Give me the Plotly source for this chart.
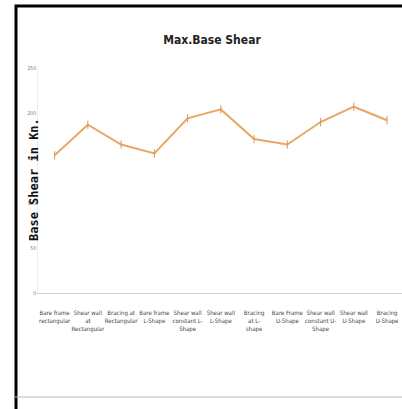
import plotly.graph_objects as go

categories = ["Bare frame<br>rectangular", "Shear wall<br>at<br>Rectangular", "Bracing at<br>Rectangular",
              "Bare frame<br>L-Shape", "Shear wall<br>constant L-<br>Shape", "Shear wall<br>L-Shape",
              "Bracing<br>at L-<br>shape", "Bare Frame<br>U-Shape", "Shear wall<br>constant U-<br>Shape",
              "Shear wall<br>U-Shape", "Bracing<br>U-Shape"]
values = [153, 187, 165, 155, 194, 204, 171, 165, 190, 207, 192]
y_ticks = [0, 50, 100, 150, 200, 250]

W, H = 402, 409
L, R, T, B = 38, 0, 68, 116
pw = W - L - R
ph = H - T - B
NARROW = "DejaVu Sans Condensed, Liberation Sans Narrow, Arial Narrow, Liberation Sans, sans-serif"

def px(x):
    return (x - L) / pw

def py(y):
    return (H - B - y) / ph

fig = go.Figure()
fig.add_trace(go.Scatter(
    x=list(range(len(categories))), y=values, mode="lines+markers",
    line=dict(color="#E9A766", width=2),
    marker=dict(symbol="line-ns-open", size=6, color="#D9965A", line=dict(width=1, color="#C98A50")),
    hoverinfo="skip"))

fig.update_layout(
    width=W, height=H, margin=dict(l=L, r=R, t=T, b=B),
    paper_bgcolor="white", plot_bgcolor="white", showlegend=False,
    title=dict(text="<b>Max.Base Shear</b>", x=212 / W, xanchor="center",
               y=1 - 40 / H, yanchor="middle",
               font=dict(family=NARROW, size=12, color="#222")),
    xaxis=dict(tickmode="array", tickvals=list(range(len(categories))), ticktext=categories,
               range=[-0.5, 10.45], showgrid=False, zeroline=False, tickangle=0,
               showline=True, linecolor="#D0D0D0", linewidth=1, ticks="outside", ticklen=14,
               tickcolor="rgba(0,0,0,0)", ticklabeloverflow="allow",
               tickfont=dict(family=NARROW, size=6, color="#444")),
    yaxis=dict(range=[0, 250], tickmode="array", tickvals=y_ticks, showgrid=False, zeroline=False,
               showline=True, linecolor="#EEEEEE", linewidth=1,
               tickfont=dict(family=NARROW, size=5, color="#777")),
)

fig.add_annotation(text="<b>Base Shear in Kn.</b>", xref="paper", yref="paper",
                   x=px(25), y=py(180), textangle=-90, showarrow=False,
                   font=dict(family="DejaVu Sans Mono", size=12, color="#111"))

# frame borders: one open path (top + left), plus gray bottom line
fig.add_shape(type="path", xref="paper", yref="paper",
              path=f"M {px(402)},{py(6)} L {px(16)},{py(6)} L {px(16)},{py(409)}",
              line=dict(color="black", width=3), layer="above")
fig.add_shape(type="line", xref="paper", yref="paper", x0=px(15), x1=px(402), y0=py(397), y1=py(397),
              line=dict(color="#BBBBBB", width=1), layer="above")

fig.write_html("out.html", config={"displayModeBar": False},
               post_script="document.body.style.margin='0';")
